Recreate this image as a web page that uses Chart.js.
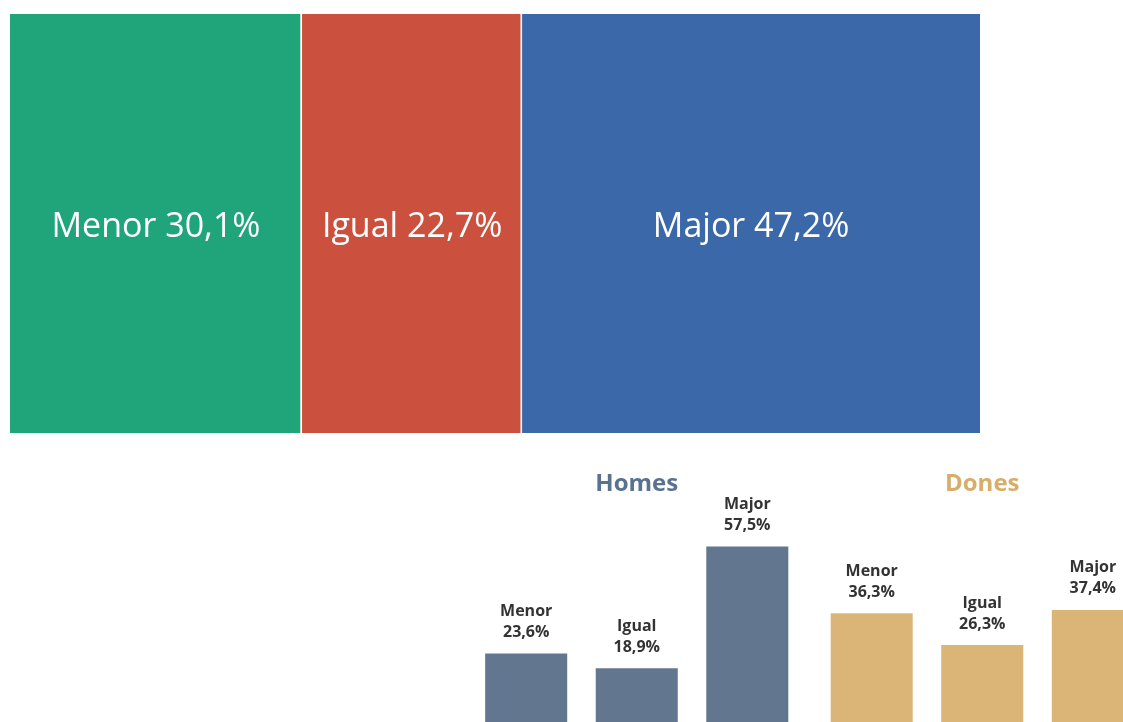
<!DOCTYPE html>
<html>
<head>
<meta charset="utf-8">
<script src="https://cdn.jsdelivr.net/npm/chart.js@4.4.0/dist/chart.umd.min.js"></script>
<style>
  html, body { margin: 0; padding: 0; background: #fff; width: 1123px; height: 722px; overflow: hidden; }
  #topWrap { position: absolute; left: 10px; top: 14px; width: 970px; height: 419px; }
  #bottomWrap { position: absolute; left: 464px; top: 440px; width: 691px; height: 288px; }
</style>
</head>
<body>
<div id="topWrap"><canvas id="totalChart"></canvas></div>
<div id="bottomWrap"><canvas id="sexChart"></canvas></div>
<script>
// overall breakdown
const topCategories = ['Menor', 'Igual', 'Major'];
const topValues = [30.1, 22.7, 47.2];
const topColors = ['#1fa579', '#cb503e', '#3a68a9'];

// by sex
const groups = ['Homes', 'Dones'];
const menorValues = [23.6, 36.3];
const igualValues = [18.9, 26.3];
const majorValues = [57.5, 37.4];
const groupColors = ['#62778f', '#dbb478'];
const titleColors = ['#5a7190', '#d8ad6a'];

const fmt = v => v.toFixed(1).replace('.', ',') + '%';

// white labels inside the stacked bar
const insideLabels = {
  id: 'insideLabels',
  afterDatasetsDraw(chart) {
    const ctx = chart.ctx;
    ctx.save();
    ctx.fillStyle = '#fff';
    ctx.font = '34px "Open Sans"';
    ctx.textAlign = 'center';
    ctx.textBaseline = 'middle';
    chart.data.datasets.forEach((ds, i) => {
      const bar = chart.getDatasetMeta(i).data[0];
      const cx = (bar.x + bar.base) / 2;
      ctx.fillText(ds.label + ' ' + fmt(ds.data[0]), cx, 213);
    });
    ctx.restore();
  }
};

new Chart(document.getElementById('totalChart'), {
  type: 'bar',
  data: {
    labels: ['Total'],
    datasets: topCategories.map((c, i) => ({
      label: c,
      data: [topValues[i]],
      backgroundColor: topColors[i],
      borderColor: 'rgba(255,255,255,0.45)',
      borderWidth: { right: i < 2 ? 2 : 0 },
      borderSkipped: false,
      categoryPercentage: 1,
      barPercentage: 1
    }))
  },
  options: {
    indexAxis: 'y',
    responsive: true,
    maintainAspectRatio: false,
    animation: false,
    layout: { padding: 0 },
    plugins: { legend: { display: false }, tooltip: { enabled: false } },
    scales: {
      x: { stacked: true, min: 0, max: 100, display: false },
      y: { stacked: true, display: false }
    }
  },
  plugins: [insideLabels]
});

// labels above bars + group titles
const barLabels = {
  id: 'barLabels',
  afterDatasetsDraw(chart) {
    const ctx = chart.ctx;
    ctx.save();
    ctx.textAlign = 'center';
    ctx.textBaseline = 'middle';
    chart.data.datasets.forEach((ds, i) => {
      chart.getDatasetMeta(i).data.forEach((bar, j) => {
        ctx.fillStyle = '#333';
        ctx.font = 'bold 16px "Open Sans"';
        ctx.fillText(ds.label, bar.x, bar.y - 42);
        ctx.fillText(fmt(ds.data[j]), bar.x, bar.y - 21);
      });
    });
    const xs = chart.scales.x;
    groups.forEach((g, j) => {
      ctx.fillStyle = titleColors[j];
      ctx.font = 'bold 24px "Open Sans"';
      ctx.fillText(g, xs.getPixelForValue(j), 44);
    });
    ctx.restore();
  }
};

new Chart(document.getElementById('sexChart'), {
  type: 'bar',
  data: {
    labels: groups,
    datasets: [
      { label: 'Menor', data: menorValues },
      { label: 'Igual', data: igualValues },
      { label: 'Major', data: majorValues }
    ].map(ds => Object.assign(ds, {
      backgroundColor: groupColors,
      borderWidth: 0,
      categoryPercentage: 0.96,
      barPercentage: 0.742
    }))
  },
  options: {
    responsive: true,
    maintainAspectRatio: false,
    animation: false,
    layout: { padding: 0 },
    plugins: { legend: { display: false }, tooltip: { enabled: false } },
    scales: {
      x: { display: false },
      y: { display: false, min: 0, max: 91.2 }
    }
  },
  plugins: [barLabels]
});
</script>
</body>
</html>
